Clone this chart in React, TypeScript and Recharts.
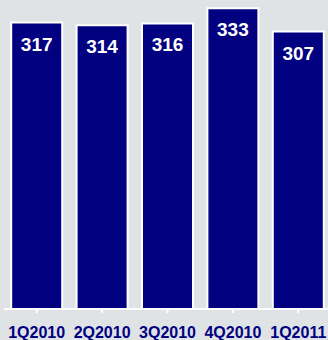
import React from 'react'
import { BarChart, Bar, XAxis, YAxis, LabelList } from 'recharts'

const quarters = ['1Q2010', '2Q2010', '3Q2010', '4Q2010', '1Q2011']
const values = [317, 314, 316, 333, 307]

const NAVY = '#000080'
const BG = '#dfe3e6'

const data = quarters.map((q, i) => ({ quarter: q, value: values[i] }))

function ValueLabel(props: any) {
    const { x, y, width, value } = props
    return (
        <text
            x={x + width / 2}
            y={y + 28}
            textAnchor="middle"
            fill="#fff"
            fontSize={19}
            fontWeight="bold"
            fontFamily="Liberation Sans, Arial, sans-serif"
        >
            {value}
        </text>
    )
}

function QuarterTick(props: any) {
    const { x, payload } = props
    return (
        <text
            x={x}
            y={338}
            textAnchor="middle"
            fill={NAVY}
            fontSize={16}
            fontWeight="bold"
            fontFamily="Liberation Sans, Arial, sans-serif"
        >
            {payload.value}
        </text>
    )
}

export default function App() {
    return (
        <div
            style={{
                position: 'fixed',
                top: 0,
                left: 0,
                width: 328,
                height: 340,
                overflow: 'hidden',
                background: BG,
            }}
        >
            <BarChart
                width={335}
                height={340}
                data={data}
                margin={{ top: 0, right: 4, bottom: 0, left: 4 }}
                barCategoryGap="11%"
            >
                <XAxis
                    dataKey="quarter"
                    height={31}
                    stroke="#fff"
                    strokeWidth={2}
                    tickSize={4}
                    interval={0}
                    tick={<QuarterTick />}
                />
                <YAxis hide domain={[0, 342]} />
                <Bar
                    dataKey="value"
                    fill={NAVY}
                    stroke="#fff"
                    strokeWidth={2}
                    isAnimationActive={false}
                >
                    <LabelList dataKey="value" content={<ValueLabel />} />
                </Bar>
            </BarChart>
        </div>
    )
}
